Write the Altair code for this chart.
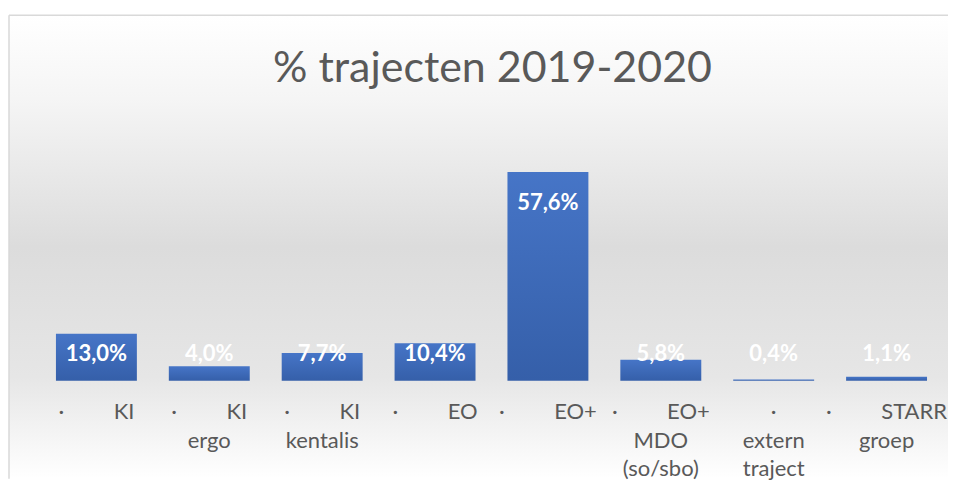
import altair as alt
import pandas as pd

# ---- data -------------------------------------------------------------
categories = ["KI", "KI ergo", "KI kentalis", "EO", "EO+", "EO+ MDO (so/sbo)",
              "extern traject", "STARR groep"]
values = [13.0, 4.0, 7.7, 10.4, 57.6, 5.8, 0.4, 1.1]
tick_lines = [
    ["·\u2003\u2003\u2003KI"],
    ["·\u2003\u2003\u2003KI", "ergo"],
    ["·\u2003\u2003\u2003KI", "kentalis"],
    ["·\u2003\u2003\u2003EO"],
    ["·\u2003\u2003\u2003EO+"],
    ["·\u2003\u2003\u2003EO+", "MDO", "(so/sbo)"],
    ["·", "extern", "traject"],
    ["·\u2003\u2003\u2003STARR", "groep"],
]
title_text = "% trajecten 2019-2020"

ticks = ["|".join(t) for t in tick_lines]
df = pd.DataFrame({"category": categories, "tick": ticks, "value": values})

W, H = 940, 366          # plot area (bars' baseline at bottom)
FULL_H = 464             # whole framed area including labels
FONT = "Lato"

x_enc = alt.X(
    "tick:N", sort=ticks, title=None,
    scale=alt.Scale(range=[31, 935], paddingInner=0.283, paddingOuter=0.1415),
    axis=alt.Axis(labelExpr="split(datum.label, '|')", labelAngle=0,
                  labelFont=FONT, labelFontSize=22, labelColor="#595959",
                  labelLineHeight=28.5, labelBaseline="alphabetic",
                  labelPadding=38, labelLimit=0, labelOverlap=False,
                  domain=False, ticks=False, grid=False, zindex=1),
)
y_scale = alt.Scale(domain=[0, 100], range=[366, 3.2])

bg = alt.Chart(pd.DataFrame({"a": [0]})).mark_rect(
    color=alt.Gradient(
        gradient="linear", x1=0, y1=0, x2=0, y2=1,
        stops=[alt.GradientStop(offset=0, color="#ffffff"),
               alt.GradientStop(offset=0.18, color="#f5f5f5"),
               alt.GradientStop(offset=0.5, color="#dcdcdc"),
               alt.GradientStop(offset=0.78, color="#e6e6e6"),
               alt.GradientStop(offset=1, color="#ffffff")])
).encode(x=alt.value(0), x2=alt.value(W), y=alt.value(0), y2=alt.value(FULL_H))

border_top = alt.Chart(pd.DataFrame({"a": [0]})).mark_rule(
    color="#d9d9d9", strokeWidth=1.5
).encode(x=alt.value(0), x2=alt.value(W), y=alt.value(0))
border_left = alt.Chart(pd.DataFrame({"a": [0]})).mark_rule(
    color="#d9d9d9", strokeWidth=1.5
).encode(x=alt.value(0), y=alt.value(0), y2=alt.value(FULL_H))

bars = alt.Chart(df).mark_bar(
    color=alt.Gradient(
        gradient="linear", x1=0, y1=0, x2=0, y2=1,
        stops=[alt.GradientStop(offset=0, color="#4675c7"),
               alt.GradientStop(offset=1, color="#355fa9")])
).encode(
    x=x_enc,
    y=alt.Y("value:Q", scale=y_scale, axis=None),
)

labels = alt.Chart(df).transform_calculate(
    lab="replace(format(datum.value, '.1f'), '.', ',') + '%'",
    ly="max(datum.value - 10.5, 5.5)",
).mark_text(
    font=FONT, fontSize=22, fontWeight="bold", color="#ffffff",
    baseline="alphabetic", align="center"
).encode(
    x=alt.X("tick:N", sort=ticks),
    y=alt.Y("ly:Q", scale=y_scale, axis=None),
    text="lab:N",
)

title = alt.Chart(pd.DataFrame({"t": [title_text]})).mark_text(
    font=FONT, fontSize=43, color="#595959", baseline="alphabetic", align="center"
).encode(x=alt.value(484), y=alt.value(67), text="t:N")

chart = alt.layer(bg, border_top, border_left, bars, labels, title).properties(
    width=W, height=H,
    padding={"left": 0, "top": 6, "right": 0, "bottom": 0},
    background="#ffffff",
).configure_view(stroke=None)

chart.save("out.html", embed_options={"renderer": "svg", "actions": False})
